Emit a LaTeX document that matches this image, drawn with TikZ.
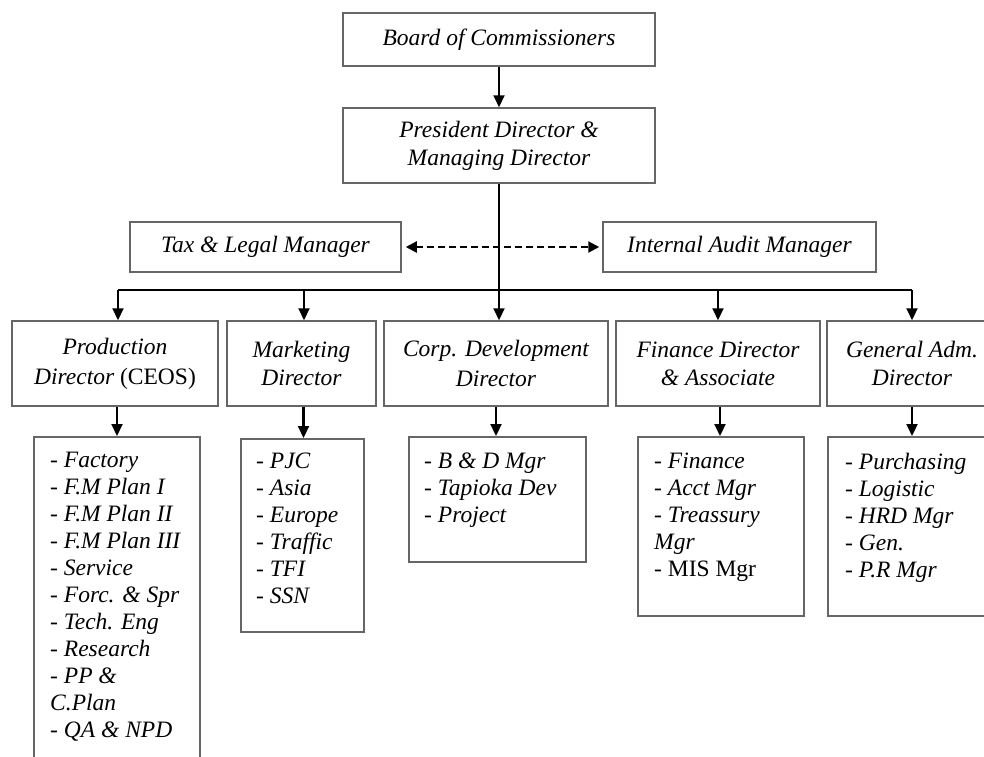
\documentclass[tikz,border=0pt]{standalone}
\usepackage{fontspec}
\setmainfont{Liberation Serif}
\usetikzlibrary{arrows.meta,calc}
\begin{document}
\begin{tikzpicture}[x=1pt,y=-1pt,
  box/.style={draw=black!60, line width=1.5pt, inner sep=2pt, align=center, font=\fontsize{23.5}{28}\selectfont\itshape},
  listbox/.style={draw=black!60, line width=1.5pt, anchor=north west, inner sep=0pt},
  listtext/.style={anchor=north west, inner sep=0pt, align=left, font=\fontsize{23.5}{27}\selectfont\itshape},
  conn/.style={line width=2.1pt, -{Triangle[length=12pt,width=11pt]}},
  trunk/.style={line width=2.1pt},
  twoway/.style={line width=2.2pt, dash pattern=on 7pt off 4pt, {Triangle[length=11pt,width=11pt]}-{Triangle[length=11pt,width=11pt]}},
]
\useasboundingbox (0,0) rectangle (984,756);
\fill[white] (0,0) rectangle (984,756);

% top
\node[box, minimum width=312pt, minimum height=53pt] (board) at (499,39.5) {Board of Commissioners};
\node[box, minimum width=312pt, minimum height=75pt] (pres) at (499,145.5) {President Director \&\\Managing Director};
\node[box, minimum width=271pt, minimum height=50pt] (tax) at (265.5,247) {Tax \& Legal Manager};
\node[box, minimum width=273pt, minimum height=50pt] (audit) at (739.5,247) {Internal Audit Manager};

% directors
\node[box, minimum width=206pt, minimum height=85pt, font=\fontsize{23.5}{30}\selectfont\itshape] (prod) at (115,363.5) {Production\\Director \textup{(CEOS)}};
\node[box, minimum width=149pt, minimum height=85pt] (mkt) at (301.5,363.5) {Marketing\\Director};
\node[box, minimum width=224pt, minimum height=85pt, font=\fontsize{23.5}{30}\selectfont\itshape] (corp) at (496,363.5) {Corp. Development\\Director};
\node[box, minimum width=204pt, minimum height=85pt] (fin) at (718,363.5) {Finance Director\\\& Associate};
\node[box, minimum width=170pt, minimum height=85pt] (gen) at (912,363.5) {General Adm.\\Director};

% list boxes
\node[listbox, minimum width=166pt, minimum height=360pt] (pl) at (33,436) {};
\node[listbox, minimum width=123pt, minimum height=193pt] (ml) at (240,438) {};
\node[listbox, minimum width=177pt, minimum height=125pt] (cl) at (408,436) {};
\node[listbox, minimum width=166pt, minimum height=179pt] (fl) at (637,436) {};
\node[listbox, minimum width=171pt, minimum height=179pt] (gl) at (827,436) {};

\node[listtext] (plt) at ($(pl.north west)+(17,16)$) {- Factory\\- F.M Plan I\\- F.M Plan II\\- F.M Plan III\\- Service\\- Forc. \& Spr\\- Tech. Eng\\- Research\\- PP \&\\C.Plan\\- QA \& NPD};
\node[listtext] (mlt) at ($(ml.north west)+(16,15)$) {- PJC\\- Asia\\- Europe\\- Traffic\\- TFI\\- SSN};
\node[listtext] (clt) at ($(cl.north west)+(16,17)$) {- B \& D Mgr\\- Tapioka Dev\\- Project};
\node[listtext] (flt) at ($(fl.north west)+(17,17)$) {- Finance\\- Acct Mgr\\- Treassury\\Mgr\\\textup{- MIS Mgr}};
\node[listtext] (glt) at ($(gl.north west)+(18,17)$) {- Purchasing\\- Logistic\\- HRD Mgr\\- Gen.\\- P.R Mgr};

% connectors
\draw[conn] (board) -- (pres);
\draw[conn] (pres.south) -- (pres.south |- corp.north);
\draw[twoway] ([xshift=4pt]tax.east) -- ([xshift=-3pt]audit.west);

\coordinate (busL) at (118,290);
\coordinate (busM) at (304,290);
\coordinate (busF) at (718,290);
\coordinate (busR) at (912,290);
\draw[trunk] (busL) -- (busR);
\draw[conn] (busL) -- (busL |- prod.north);
\draw[conn] (busM) -- (busM |- mkt.north);
\draw[conn] (busF) -- (busF |- fin.north);
\draw[conn] (busR) -- (busR |- gen.north);

\draw[conn] ([xshift=2pt]prod.south) -- ([xshift=2pt]prod.south |- pl.north);
\draw[conn] ([xshift=2pt]mkt.south) -- ([xshift=2pt]mkt.south |- ml.north);
\draw[conn] (corp.south) -- (corp.south |- cl.north);
\draw[conn] ([xshift=2pt]fin.south) -- ([xshift=2pt]fin.south |- fl.north);
\draw[conn] (gen.south) -- (gen.south |- gl.north);
\end{tikzpicture}
\end{document}
